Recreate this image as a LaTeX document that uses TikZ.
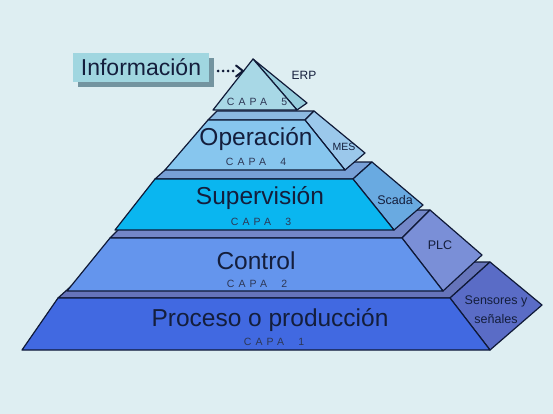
\documentclass[tikz,border=0pt]{standalone}
\usepackage{fontspec}
\setmainfont{Liberation Sans}
\newfontfamily\capafont[LetterSpace=40]{Liberation Sans}
\usetikzlibrary{arrows.meta,shadows}
\definecolor{bg}{RGB}{222,238,242}
\definecolor{edge}{RGB}{15,25,55}
\definecolor{txt}{RGB}{20,30,60}
\definecolor{capatxt}{RGB}{45,55,85}
\definecolor{aF}{RGB}{65,105,225}
\definecolor{aS}{RGB}{90,108,198}
\definecolor{aT}{RGB}{102,116,186}
\definecolor{bF}{RGB}{100,149,237}
\definecolor{bS}{RGB}{122,143,215}
\definecolor{bT}{RGB}{115,135,200}
\definecolor{cF}{RGB}{10,182,240}
\definecolor{cS}{RGB}{105,170,225}
\definecolor{cT}{RGB}{120,160,215}
\definecolor{dF}{RGB}{135,198,238}
\definecolor{dS}{RGB}{155,200,235}
\definecolor{dT}{RGB}{140,185,225}
\definecolor{eF}{RGB}{168,216,230}
\definecolor{eS}{RGB}{150,205,220}
\definecolor{boxF}{RGB}{160,214,224}
\definecolor{boxS}{RGB}{115,148,160}
\begin{document}
\begin{tikzpicture}[x=1pt,y=-1pt,
  face/.style={draw=edge, line width=1.2pt, line join=round},
  big/.style={font=\fontsize{24.5}{26}\selectfont, text=txt, inner sep=0pt},
  capa/.style={font=\capafont\fontsize{10.5}{11}\selectfont, text=capatxt, inner sep=0pt},
  small/.style={font=\fontsize{12.5}{19}\selectfont, text=txt, inner sep=0pt, align=center}]
\fill[bg] (0,0) rectangle (553,414);
\useasboundingbox (0,0) rectangle (553,414);

% Layer 1
\path[face, fill=aT] (58,298) -- (450,298) -- (490,262) -- (98,262) -- cycle;
\path[face, fill=aS] (450,298) -- (490,262) -- (542,305) -- (490,350) -- cycle;
\path[face, fill=aF] (22,350) -- (490,350) -- (450,298) -- (58,298) -- cycle;
% Layer 2
\path[face, fill=bT] (110,238) -- (402,238) -- (430,210) -- (138,210) -- cycle;
\path[face, fill=bS] (402,238) -- (430,210) -- (482,255) -- (443,291) -- cycle;
\path[face, fill=bF] (67,291) -- (443,291) -- (402,238) -- (110,238) -- cycle;
% Layer 3
\path[face, fill=cT] (155,179) -- (353,179) -- (372,162) -- (174,162) -- cycle;
\path[face, fill=cS] (353,179) -- (372,162) -- (423,205) -- (394,230) -- cycle;
\path[face, fill=cF] (115,230) -- (394,230) -- (353,179) -- (155,179) -- cycle;
% Layer 4
\path[face, fill=dT] (208,120) -- (305,120) -- (314,111) -- (217,111) -- cycle;
\path[face, fill=dS] (305,120) -- (314,111) -- (365,153) -- (345,170) -- cycle;
\path[face, fill=dF] (165,170) -- (345,170) -- (305,120) -- (208,120) -- cycle;
% Layer 5
\path[face, fill=eS] (253,59) -- (307,103) -- (297,110) -- cycle;
\path[face, fill=eF] (213,110) -- (297,110) -- (253,59) -- cycle;

% Labels
\node[big] (l1) at (270,320) {Proceso o producción};
\node[capa] (c1) at (274,342) {CAPA\ \ 1};
\node[big] (l2) at (256,261) {Control};
\node[capa] (c2) at (257,284) {CAPA\ \ 2};
\node[big] (l3) at (260,198) {Supervisión};
\node[capa] (c3) at (261,222) {CAPA\ \ 3};
\node[big] (l4) at (256,139) {Operación};
\node[capa] (c4) at (256,162) {CAPA\ \ 4};
\node[capa] (c5) at (257,102) {CAPA\ \ 5};

\node[font=\fontsize{12}{14}\selectfont, text=txt, inner sep=0pt] (erp) at (304,75) {ERP};
\node[font=\fontsize{10.5}{12}\selectfont, text=txt, inner sep=0pt] (mes) at (344,147) {MES};
\node[small] (scada) at (395,200) {Scada};
\node[small] (plc) at (440,245) {PLC};
\node[small] (sens) at (496,310) {Sensores y\\señales};

% Informacion box
\node[fill=boxF, minimum width=136pt, minimum height=29pt, inner sep=0pt,
  drop shadow={shadow xshift=5pt, shadow yshift=-5pt, fill=boxS, opacity=1},
  font=\fontsize{23}{25}\selectfont, text=txt] (info) at (141,67.5) {Información};
\coordinate (tip) at (243,71);
\coordinate (dotend) at (234,71);
\draw[edge, line width=3pt, line cap=round, dash pattern=on 0pt off 5pt]
  ([xshift=9pt,yshift=-3.5pt]info.east) -- (dotend);
\draw[edge, line width=2pt, line cap=round, line join=miter]
  ([xshift=-7pt,yshift=-5.5pt]tip) -- (tip) -- ([xshift=-7pt,yshift=5.5pt]tip);
\end{tikzpicture}
\end{document}
